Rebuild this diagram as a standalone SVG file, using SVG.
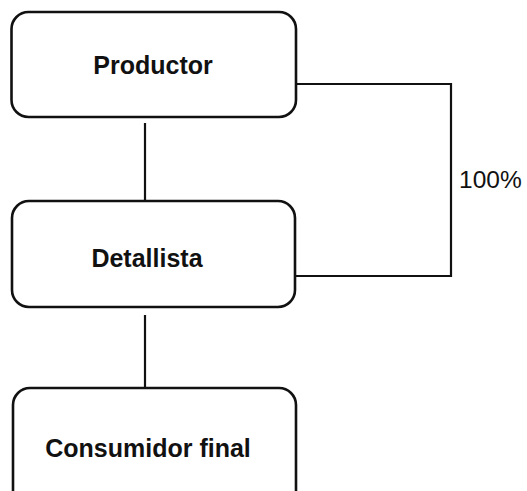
<svg xmlns="http://www.w3.org/2000/svg" width="527" height="491" viewBox="0 0 527 491">
<style>
.box{fill:#fff;stroke:#111;stroke-width:2.6}
.lbl{font-family:"Liberation Sans",Arial,sans-serif;font-weight:bold;font-size:25px;fill:#111;text-anchor:middle}
.pct{font-family:"Liberation Sans",Arial,sans-serif;font-size:24.5px;fill:#111}
.con{fill:none;stroke:#111;stroke-width:2.2}
</style>
<rect width="527" height="491" fill="#fff"/>
<g id="connectors">
<line class="con" x1="145" y1="123" x2="145" y2="201"/>
<line class="con" x1="145" y1="315" x2="145" y2="388"/>
<polyline class="con" points="296,84 451,84 451,276 295,276"/>
</g>
<g id="productor">
<rect class="box" x="11.5" y="12" width="284.5" height="105" rx="17"/>
<text class="lbl" x="153" y="74">Productor</text>
</g>
<g id="detallista">
<rect class="box" x="12" y="201" width="283" height="106" rx="17"/>
<text class="lbl" x="147" y="267">Detallista</text>
</g>
<g id="consumidor">
<rect class="box" x="13" y="388" width="283" height="120" rx="17"/>
<text class="lbl" x="148" y="457">Consumidor final</text>
</g>
<g id="label100">
<text class="pct" x="459" y="188">100%</text>
</g>
</svg>
